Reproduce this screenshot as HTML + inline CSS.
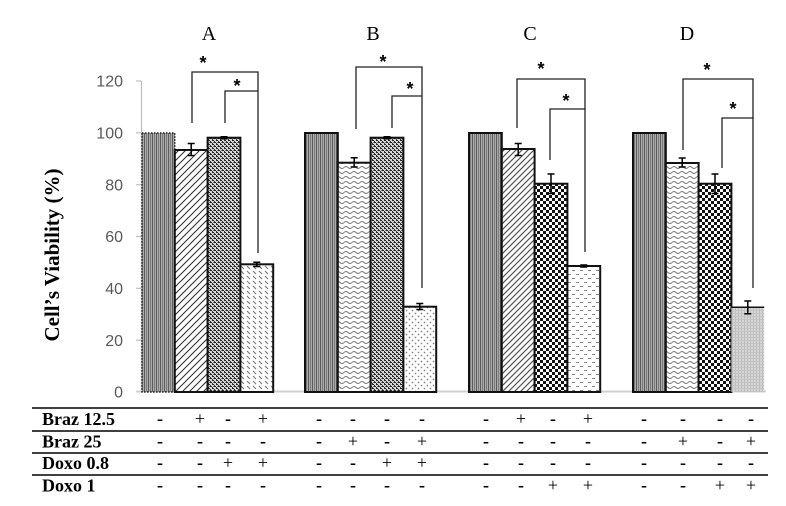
<!DOCTYPE html>
<html><head><meta charset="utf-8"><style>
html,body{margin:0;padding:0;background:#fff;}
svg{display:block;}
</style></head><body>
<svg width="786" height="506" viewBox="0 0 786 506" xmlns="http://www.w3.org/2000/svg">
<defs>
<pattern id="vs" width="4" height="4" patternUnits="userSpaceOnUse"><rect width="4" height="4" fill="#aaaaaa"/><rect x="0" width="1" height="4" fill="#5c5c5c"/><rect x="2" width="1" height="4" fill="#7c7c7c"/></pattern>
<pattern id="dg" width="7" height="7" patternUnits="userSpaceOnUse"><rect width="7" height="7" fill="#fff"/><path d="M-1,8 L8,-1 M-1,1 L1,-1 M6,8 L8,6" stroke="#333" stroke-width="1.1"/></pattern>
<pattern id="dg2" width="6" height="6" patternUnits="userSpaceOnUse"><rect width="6" height="6" fill="#fff"/><path d="M-1,7 L7,-1 M-1,1 L1,-1 M5,7 L7,5" stroke="#555" stroke-width="1.2"/></pattern>
<pattern id="cf" width="4" height="4" patternUnits="userSpaceOnUse"><rect width="4" height="4" fill="#d8d8d8"/><rect x="0" y="0" width="2" height="1" fill="#222"/><rect x="2" y="1" width="1" height="1" fill="#333"/><rect x="2" y="2" width="2" height="1" fill="#222"/><rect x="0" y="3" width="1" height="1" fill="#333"/><rect x="1" y="2" width="1" height="1" fill="#777"/></pattern>
<pattern id="ck" width="6" height="6" patternUnits="userSpaceOnUse"><rect width="6" height="6" fill="#fff"/><rect x="0" y="0" width="3" height="3" fill="#111"/><rect x="3" y="3" width="3" height="3" fill="#111"/></pattern>
<pattern id="bs" width="6" height="5" patternUnits="userSpaceOnUse"><rect width="6" height="5" fill="#fff"/><path d="M1,1 L4,4" stroke="#777" stroke-width="1.1"/></pattern>
<pattern id="wv" width="8" height="5" patternUnits="userSpaceOnUse"><rect width="8" height="5" fill="#fff"/><path d="M0,2.5 Q2,0.5 4,2.5 T8,2.5" fill="none" stroke="#777" stroke-width="1"/></pattern>
<pattern id="dt" width="6" height="6" patternUnits="userSpaceOnUse"><rect width="6" height="6" fill="#fff"/><circle cx="1.5" cy="1.5" r="0.9" fill="#888"/><circle cx="4.5" cy="4.5" r="0.9" fill="#888"/></pattern>
<pattern id="hd" width="8" height="8" patternUnits="userSpaceOnUse"><rect width="8" height="8" fill="#fff"/><rect x="0" y="2" width="3" height="1" fill="#888"/><rect x="4" y="6" width="3" height="1" fill="#888"/></pattern>
<pattern id="lg" width="3" height="3" patternUnits="userSpaceOnUse"><rect width="3" height="3" fill="#d6d6d6"/><rect x="0" y="0" width="1" height="3" fill="#bdbdbd"/><rect x="0" y="1" width="3" height="1" fill="#c4c4c4"/></pattern>
</defs>

<!-- titles -->
<g font-family="'Liberation Serif', serif" font-size="20" text-anchor="middle" fill="#000">
<text x="209" y="40">A</text>
<text x="373" y="40">B</text>
<text x="530" y="40">C</text>
<text x="687" y="40">D</text>
</g>

<!-- y axis label -->
<text transform="translate(59,255) rotate(-90)" font-family="'Liberation Serif', serif" font-size="21" font-weight="bold" text-anchor="middle">Cell’s Viability (%)</text>

<!-- y ticks -->
<g font-family="'Liberation Sans', sans-serif" font-size="16" fill="#595959" text-anchor="end">
<text x="123" y="397.7">0</text>
<text x="123" y="345.9">20</text>
<text x="123" y="294">40</text>
<text x="123" y="242.2">60</text>
<text x="123" y="190.4">80</text>
<text x="123" y="138.5">100</text>
<text x="123" y="86.7">120</text>
</g>
<g stroke="#bfbfbf" stroke-width="1.2">
<line x1="141.5" y1="81" x2="141.5" y2="392"/>
<line x1="136" y1="81" x2="141" y2="81"/>
<line x1="136" y1="132.8" x2="141" y2="132.8"/>
<line x1="136" y1="184.7" x2="141" y2="184.7"/>
<line x1="136" y1="236.5" x2="141" y2="236.5"/>
<line x1="136" y1="288.3" x2="141" y2="288.3"/>
<line x1="136" y1="340.2" x2="141" y2="340.2"/>
</g>
<line x1="136" y1="391.5" x2="766" y2="391.5" stroke="#d0d0d0" stroke-width="2"/>

<!-- bars A -->
<rect x="142" y="133" width="32.8" height="259" fill="url(#vs)" stroke="#222" stroke-width="1.5" stroke-dasharray="1.5,1.5"/>
<rect x="174.8" y="150" width="32.8" height="242" fill="url(#dg)" stroke="#111" stroke-width="2"/>
<rect x="207.6" y="137.7" width="32.8" height="254.3" fill="url(#cf)" stroke="#111" stroke-width="2"/>
<rect x="240.4" y="264.3" width="32.8" height="127.7" fill="url(#bs)" stroke="#111" stroke-width="2"/>
<!-- bars B -->
<rect x="305" y="133" width="32.8" height="259" fill="url(#vs)" stroke="#111" stroke-width="2"/>
<rect x="337.8" y="162.7" width="32.8" height="229.3" fill="url(#wv)" stroke="#111" stroke-width="2"/>
<rect x="370.6" y="137.7" width="32.8" height="254.3" fill="url(#cf)" stroke="#111" stroke-width="2"/>
<rect x="403.4" y="306.7" width="32.8" height="85.3" fill="url(#dt)" stroke="#111" stroke-width="2"/>
<!-- bars C -->
<rect x="469" y="133" width="32.8" height="259" fill="url(#vs)" stroke="#111" stroke-width="2"/>
<rect x="501.8" y="149" width="32.8" height="243" fill="url(#dg2)" stroke="#111" stroke-width="2"/>
<rect x="534.6" y="183.7" width="32.8" height="208.3" fill="url(#ck)" stroke="#111" stroke-width="2"/>
<rect x="567.4" y="266" width="32.8" height="126" fill="url(#hd)" stroke="#111" stroke-width="2"/>
<!-- bars D -->
<rect x="633" y="133" width="32.8" height="259" fill="url(#vs)" stroke="#111" stroke-width="2"/>
<rect x="665.8" y="163" width="32.8" height="229" fill="url(#wv)" stroke="#111" stroke-width="2"/>
<rect x="698.6" y="183.7" width="32.8" height="208.3" fill="url(#ck)" stroke="#111" stroke-width="2"/>
<rect x="731.4" y="307.3" width="32.8" height="84.7" fill="url(#lg)"/>
<line x1="731.4" y1="307.3" x2="764.2" y2="307.3" stroke="#111" stroke-width="1.5"/>

<!-- error bars -->
<g stroke="#000" stroke-width="1.5" fill="none">
<path d="M191.2,143.5 V155.5 M187.7,143.5 H194.7 M187.7,155.5 H194.7"/>
<path d="M224,136.7 V138.7 M220.5,136.7 H227.5 M220.5,138.7 H227.5"/>
<path d="M256.8,262.3 V266.5 M253.3,262.3 H260.3 M253.3,266.5 H260.3"/>
<path d="M354.2,157.7 V167 M350.7,157.7 H357.7 M350.7,167 H357.7"/>
<path d="M387,136.7 V138.7 M383.5,136.7 H390.5 M383.5,138.7 H390.5"/>
<path d="M419.8,303.5 V309.5 M416.3,303.5 H423.3 M416.3,309.5 H423.3"/>
<path d="M518.2,143.5 V155.5 M514.7,143.5 H521.7 M514.7,155.5 H521.7"/>
<path d="M551,174 V193.5 M547.5,174 H554.5 M547.5,193.5 H554.5"/>
<path d="M583.8,265 V267 M580.3,265 H587.3 M580.3,267 H587.3"/>
<path d="M682.2,158 V167 M678.7,158 H685.7 M678.7,167 H685.7"/>
<path d="M715,174 V193.5 M711.5,174 H718.5 M711.5,193.5 H718.5"/>
<path d="M747.8,301 V313.7 M744.3,301 H751.3 M744.3,313.7 H751.3"/>
</g>

<!-- significance brackets -->
<g stroke="#222" stroke-width="1.3" fill="none">
<path d="M192,123 V72 H258 V253"/>
<path d="M225,123 V91 H258"/>
<path d="M356,129 V67 H422 V288"/>
<path d="M392,128 V96 H422"/>
<path d="M517,128 V79 H585 V252"/>
<path d="M550,160 V109 H585"/>
<path d="M683,150 V79 H753 V288"/>
<path d="M722,168 V118 H753"/>
</g>
<g font-family="'Liberation Sans', sans-serif" font-size="18" font-weight="bold" text-anchor="middle">
<text x="203" y="69">*</text>
<text x="237" y="92">*</text>
<text x="383" y="68">*</text>
<text x="410" y="95">*</text>
<text x="541" y="75">*</text>
<text x="566" y="107">*</text>
<text x="707" y="76">*</text>
<text x="733" y="115">*</text>
</g>

<!-- table -->
<g stroke="#404040" stroke-width="2">
<line x1="32" y1="408" x2="768" y2="408"/>
<line x1="32" y1="431" x2="768" y2="431"/>
<line x1="32" y1="453" x2="768" y2="453"/>
<line x1="32" y1="475" x2="768" y2="475"/>
</g>
<g font-family="'Liberation Serif', serif" font-size="18" font-weight="bold">
<text x="42" y="425">Braz 12.5</text>
<text x="42" y="447.7">Braz 25</text>
<text x="42" y="469">Doxo 0.8</text>
<text x="42" y="491.7">Doxo 1</text>
</g>
<g font-family="'Liberation Serif', serif" font-size="18" text-anchor="middle">
<g transform="translate(0,424.5)">
<text x="160" font-weight="bold">-</text><text x="200">+</text><text x="228" font-weight="bold">-</text><text x="263">+</text>
<text x="319" font-weight="bold">-</text><text x="353" font-weight="bold">-</text><text x="387" font-weight="bold">-</text><text x="422" font-weight="bold">-</text>
<text x="486" font-weight="bold">-</text><text x="521">+</text><text x="553" font-weight="bold">-</text><text x="588">+</text>
<text x="644" font-weight="bold">-</text><text x="683" font-weight="bold">-</text><text x="720" font-weight="bold">-</text><text x="751" font-weight="bold">-</text>
</g>
<g transform="translate(0,447)">
<text x="160" font-weight="bold">-</text><text x="200" font-weight="bold">-</text><text x="228" font-weight="bold">-</text><text x="263" font-weight="bold">-</text>
<text x="319" font-weight="bold">-</text><text x="353">+</text><text x="387" font-weight="bold">-</text><text x="422">+</text>
<text x="486" font-weight="bold">-</text><text x="521" font-weight="bold">-</text><text x="553" font-weight="bold">-</text><text x="588" font-weight="bold">-</text>
<text x="644" font-weight="bold">-</text><text x="683">+</text><text x="720" font-weight="bold">-</text><text x="751">+</text>
</g>
<g transform="translate(0,468.5)">
<text x="160" font-weight="bold">-</text><text x="200" font-weight="bold">-</text><text x="228">+</text><text x="263">+</text>
<text x="319" font-weight="bold">-</text><text x="353" font-weight="bold">-</text><text x="387">+</text><text x="422">+</text>
<text x="486" font-weight="bold">-</text><text x="521" font-weight="bold">-</text><text x="553" font-weight="bold">-</text><text x="588" font-weight="bold">-</text>
<text x="644" font-weight="bold">-</text><text x="683" font-weight="bold">-</text><text x="720" font-weight="bold">-</text><text x="751" font-weight="bold">-</text>
</g>
<g transform="translate(0,491)">
<text x="160" font-weight="bold">-</text><text x="200" font-weight="bold">-</text><text x="228" font-weight="bold">-</text><text x="263" font-weight="bold">-</text>
<text x="319" font-weight="bold">-</text><text x="353" font-weight="bold">-</text><text x="387" font-weight="bold">-</text><text x="422" font-weight="bold">-</text>
<text x="486" font-weight="bold">-</text><text x="521" font-weight="bold">-</text><text x="553">+</text><text x="588">+</text>
<text x="644" font-weight="bold">-</text><text x="683" font-weight="bold">-</text><text x="720">+</text><text x="751">+</text>
</g>
</g>
</svg>
</body></html>
